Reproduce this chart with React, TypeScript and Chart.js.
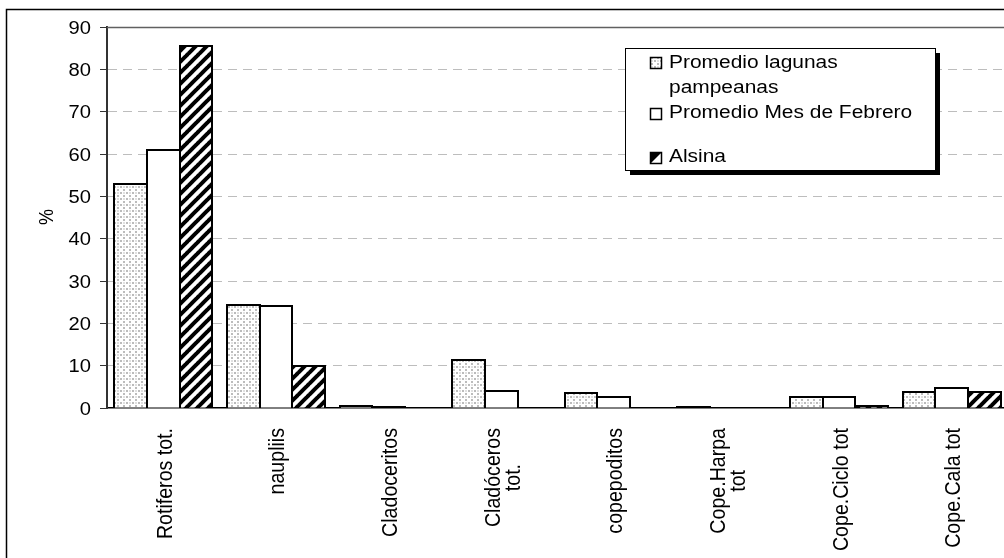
import React, { useEffect, useRef } from 'react';
import { Chart, registerables } from 'chart.js';

Chart.register(...registerables);

// ---- data ----
const categoryLabels: string[][] = [
  ['Rotiferos tot.'],
  ['naupliis'],
  ['Cladoceritos'],
  ['Cladóceros', 'tot.'],
  ['copepoditos'],
  ['Cope.Harpa', 'tot'],
  ['Cope.Ciclo tot'],
  ['Cope.Cala tot'],
];
const seriesNames = ['Promedio lagunas pampeanas', 'Promedio Mes de Febrero', 'Alsina'];
const legendLines: string[][] = [['Promedio lagunas', 'pampeanas'], ['Promedio Mes de Febrero'], ['Alsina']];
const lagunasValues = [52.8, 24.4, 0.4, 11.3, 3.5, 0.3, 2.7, 3.8];
const febreroValues = [61.0, 24.0, 0.2, 3.9, 2.7, 0, 2.7, 4.8];
const alsinaValues = [85.5, 10.0, 0, 0, 0, 0, 0.4, 3.8];
const yTickValues = [0, 10, 20, 30, 40, 50, 60, 70, 80, 90];
const yTitle = '%';

const FONT = '"Liberation Sans", Arial, sans-serif';
const SX = 1.12; // horizontal stretch of the reference lettering

function makeStipple(): CanvasPattern | string {
  const c = document.createElement('canvas');
  c.width = 6;
  c.height = 6;
  const g = c.getContext('2d');
  if (!g) return '#ddd';
  g.fillStyle = '#ffffff';
  g.fillRect(0, 0, 6, 6);
  g.fillStyle = '#bcbcbc';
  g.fillRect(0, 0, 2, 2);
  g.fillRect(3, 3, 2, 2);
  g.fillStyle = '#e0e0e0';
  g.fillRect(3, 0, 2, 2);
  return g.createPattern(c, 'repeat') || '#ddd';
}

function makeHatch(): CanvasPattern | string {
  const s = 11;
  const c = document.createElement('canvas');
  c.width = s;
  c.height = s;
  const g = c.getContext('2d');
  if (!g) return '#000';
  g.fillStyle = '#ffffff';
  g.fillRect(0, 0, s, s);
  g.strokeStyle = '#000000';
  g.lineWidth = 4;
  for (const o of [-s, 0, s]) {
    g.beginPath();
    g.moveTo(o - 1, s + 1);
    g.lineTo(o + s + 1, -1);
    g.stroke();
  }
  return g.createPattern(c, 'repeat') || '#000';
}

export default function App() {
  const ref = useRef<HTMLCanvasElement | null>(null);

  useEffect(() => {
    const canvas = ref.current;
    if (!canvas) return;
    const stipple = makeStipple();
    const hatch = makeHatch();
    const seriesValues = [lagunasValues, febreroValues, alsinaValues];

    const outlines = {
      id: 'outlines',
      afterDatasetsDraw(chart: any) {
        const ctx: CanvasRenderingContext2D = chart.ctx;
        ctx.save();
        ctx.strokeStyle = '#000';
        ctx.lineWidth = 2;
        ctx.lineJoin = 'miter';
        seriesValues.forEach((vals, d) => {
          const meta = chart.getDatasetMeta(d);
          meta.data.forEach((el: any, j: number) => {
            if (!vals[j]) return;
            const l = Math.round(el.x - el.width / 2);
            const r = Math.round(el.x + el.width / 2);
            const t = Math.round(el.y);
            const b = Math.round(el.base);
            ctx.beginPath();
            ctx.moveTo(l, b);
            ctx.lineTo(l, t);
            ctx.lineTo(r, t);
            ctx.lineTo(r, b);
            ctx.stroke();
          });
        });
        ctx.restore();
      },
    };

    const decor = {
      id: 'decor',
      afterDraw(chart: any) {
        const ctx: CanvasRenderingContext2D = chart.ctx;
        const { left, right } = chart.chartArea;
        const xs = chart.scales.x;
        const ys = chart.scales.y;
        ctx.save();
        // plot top line
        const yTop = Math.round(ys.getPixelForValue(yTickValues[yTickValues.length - 1])) + 0.5;
        ctx.strokeStyle = '#606060';
        ctx.lineWidth = 1.5;
        ctx.beginPath();
        ctx.moveTo(left, yTop);
        ctx.lineTo(right, yTop);
        ctx.stroke();
        // outer frame
        ctx.strokeStyle = '#000';
        ctx.lineWidth = 1.5;
        ctx.strokeRect(6.5, 9.5, chart.width + 40, chart.height + 40);
        ctx.fillStyle = '#000';
        // y tick labels
        ctx.font = `18px ${FONT}`;
        ctx.textAlign = 'right';
        ctx.textBaseline = 'alphabetic';
        yTickValues.forEach((v) => {
          const py = ys.getPixelForValue(v);
          ctx.save();
          ctx.translate(91, py + 6.5);
          ctx.scale(SX, 1);
          ctx.fillText(String(v), 0, 0);
          ctx.restore();
        });
        // y title
        ctx.save();
        ctx.font = `18px ${FONT}`;
        ctx.translate(47, 217);
        ctx.rotate(-Math.PI / 2);
        ctx.scale(1, SX);
        ctx.textAlign = 'center';
        ctx.textBaseline = 'middle';
        ctx.fillText(yTitle, 0, 0);
        ctx.restore();
        // x labels
        ctx.font = `19.6px ${FONT}`;
        const start = ys.getPixelForValue(0) + 20;
        categoryLabels.forEach((lines, i) => {
          const cx = xs.getPixelForValue(i);
          let w = 0;
          lines.forEach((l) => (w = Math.max(w, ctx.measureText(l).width)));
          const cy = start + w / 2;
          lines.forEach((l, j) => {
            const off = (j - (lines.length - 1) / 2) * 20;
            ctx.save();
            ctx.translate(cx + 8.5 + off, cy);
            ctx.rotate(-Math.PI / 2);
            ctx.scale(1, SX);
            ctx.textAlign = 'center';
            ctx.textBaseline = 'alphabetic';
            ctx.fillText(l, 0, 0);
            ctx.restore();
          });
        });
        // legend
        const bx = 625, by = 48, bw = 310, bh = 122;
        ctx.fillStyle = '#000';
        ctx.fillRect(bx + 5, by + 5, bw, bh);
        ctx.fillStyle = '#fff';
        ctx.fillRect(bx, by, bw, bh);
        ctx.strokeStyle = '#000';
        ctx.lineWidth = 1;
        ctx.strokeRect(bx + 0.5, by + 0.5, bw, bh);
        const sqTops = [57, 108, 152];
        const baselines = [[68, 93], [118], [162]];
        ctx.font = `18.7px ${FONT}`;
        ctx.textAlign = 'left';
        ctx.textBaseline = 'alphabetic';
        legendLines.forEach((lines, k) => {
          const sx = 650.5, sy = sqTops[k] + 0.5, ss = 11;
          if (k === 0) {
            ctx.fillStyle = stipple as any;
            ctx.fillRect(sx, sy, ss, ss);
          } else if (k === 1) {
            ctx.fillStyle = '#fff';
            ctx.fillRect(sx, sy, ss, ss);
          } else {
            ctx.fillStyle = '#fff';
            ctx.fillRect(sx, sy, ss, ss);
            ctx.fillStyle = '#000';
            ctx.beginPath();
            ctx.moveTo(sx, sy);
            ctx.lineTo(sx + ss, sy);
            ctx.lineTo(sx, sy + ss);
            ctx.closePath();
            ctx.fill();
          }
          ctx.strokeStyle = '#000';
          ctx.lineWidth = 1.5;
          ctx.strokeRect(sx, sy, ss, ss);
          ctx.fillStyle = '#000';
          lines.forEach((l, j) => {
            ctx.save();
            ctx.translate(669, baselines[k][j]);
            ctx.scale(SX, 1);
            ctx.fillText(l, 0, 0);
            ctx.restore();
          });
        });
        ctx.restore();
      },
    };

    const chart = new Chart(canvas, {
      type: 'bar',
      data: {
        labels: categoryLabels.map((l) => l.join(' ')),
        datasets: [
          { label: seriesNames[0], data: lagunasValues, backgroundColor: stipple as any, borderWidth: 0 },
          { label: seriesNames[1], data: febreroValues, backgroundColor: '#ffffff', borderWidth: 0 },
          { label: seriesNames[2], data: alsinaValues, backgroundColor: hatch as any, borderWidth: 0 },
        ],
      },
      options: {
        responsive: false,
        animation: false,
        devicePixelRatio: 1,
        datasets: { bar: { categoryPercentage: 0.87, barPercentage: 1.0, inflateAmount: 0 } },
        layout: { padding: { left: 0, right: 4, top: 27, bottom: 0 } },
        plugins: { legend: { display: false }, tooltip: { enabled: false }, title: { display: false } },
        scales: {
          x: {
            grid: { display: false, drawTicks: false },
            border: { display: true, color: '#000', width: 1.5 },
            ticks: { display: false },
            afterFit: (s: any) => {
              s.height = 150;
            },
          },
          y: {
            min: yTickValues[0],
            max: yTickValues[yTickValues.length - 1],
            ticks: { stepSize: yTickValues[1] - yTickValues[0], color: 'rgba(0,0,0,0)', font: { family: FONT, size: 18 }, padding: 8 },
            grid: {
              color: (c: any) =>
                c.tick && (c.tick.value === yTickValues[0] || c.tick.value === yTickValues[yTickValues.length - 1])
                  ? 'rgba(0,0,0,0)'
                  : '#bdbdbd',
              lineWidth: 1,
              tickColor: '#333',
              tickLength: 7,
              tickBorderDash: [],
            },
            border: { display: true, color: '#333', width: 2, dash: [9, 6] },
            afterFit: (s: any) => {
              s.width = 107;
            },
          },
        },
      },
      plugins: [outlines, decor],
    } as any);
    return () => chart.destroy();
  }, []);

  return (
    <div style={{ position: 'fixed', left: 0, top: 0, width: 1004, height: 558, overflow: 'hidden', background: '#fff' }}>
      <canvas ref={ref} width={1012} height={558} style={{ display: 'block', width: 1012, height: 558 }} />
    </div>
  );
}
